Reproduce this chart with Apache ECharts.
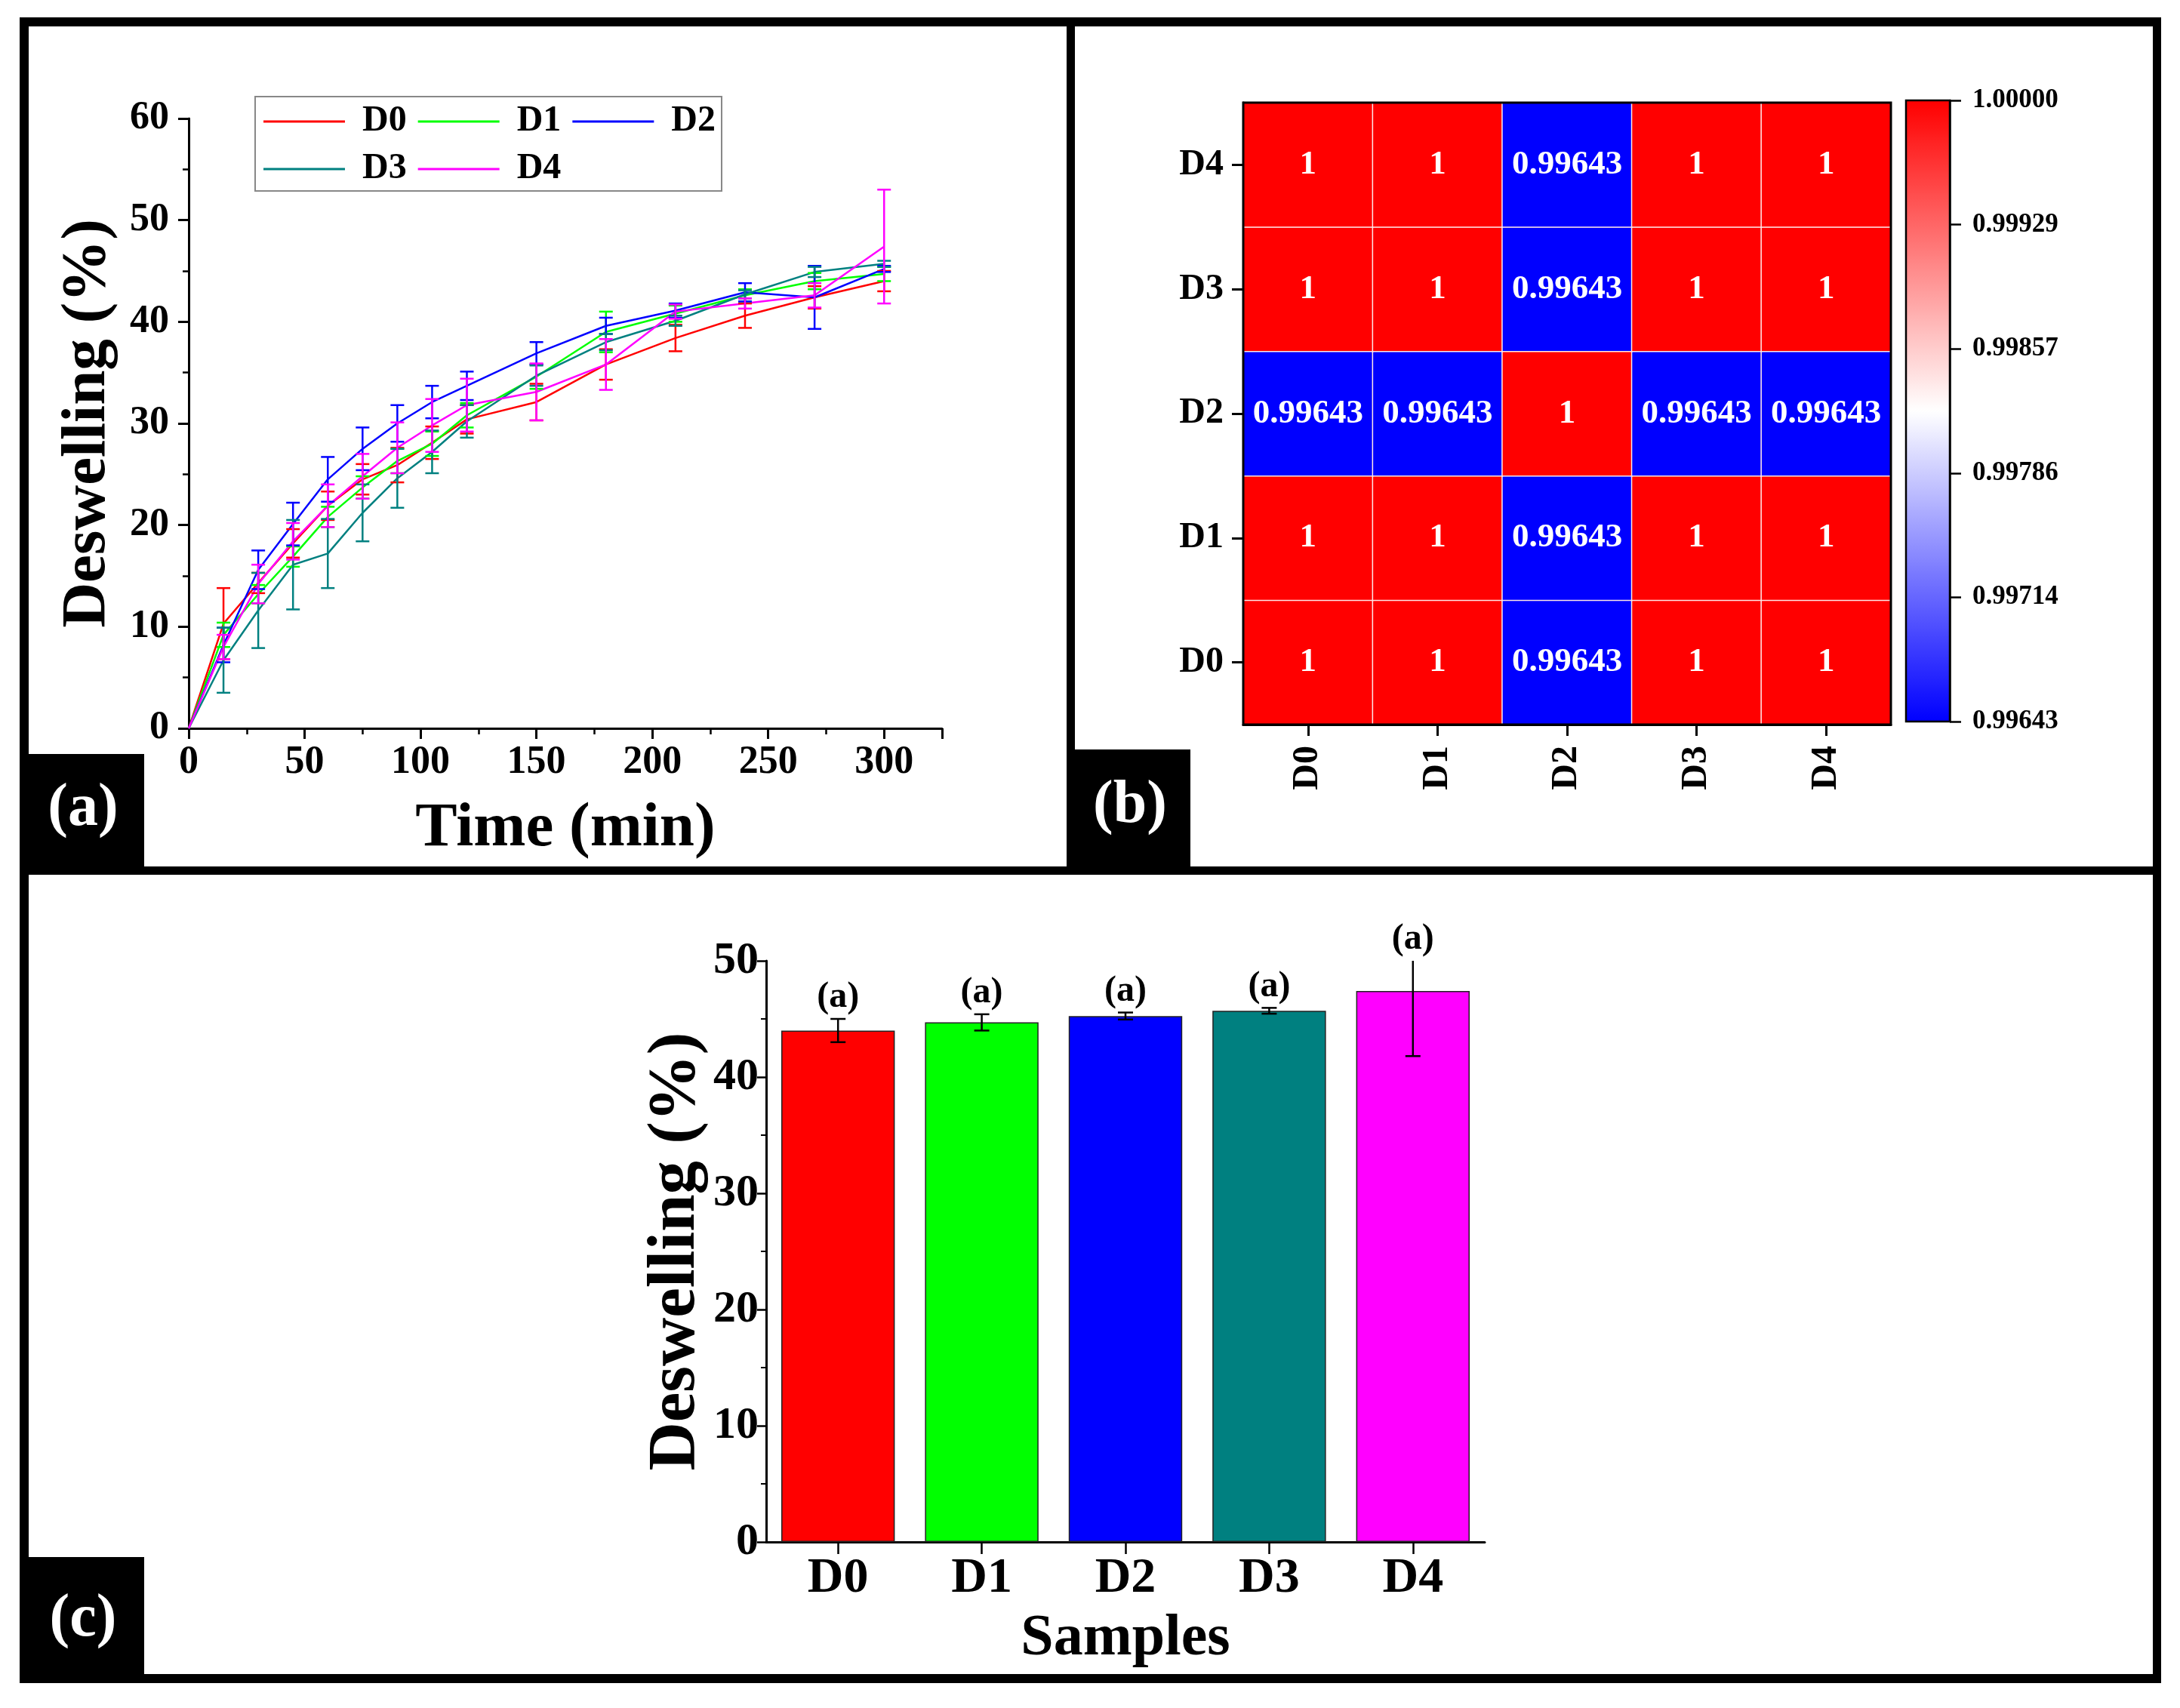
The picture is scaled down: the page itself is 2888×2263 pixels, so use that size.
<!DOCTYPE html>
<html>
<head>
<meta charset="utf-8">
<script src="https://cdn.jsdelivr.net/npm/echarts@6/dist/echarts.min.js"></script>
<style>
  html, body { margin: 0; padding: 0; background: #ffffff; }
  #chart { width: 2888px; height: 2263px; }
</style>
</head>
<body>
<div id="chart"></div>
<script>
// ===== data =====
var timePoints = [0, 15, 30, 45, 60, 75, 90, 105, 120, 150, 180, 210, 240, 270, 300];
var sampleNames = ['D0', 'D1', 'D2', 'D3', 'D4'];
var sampleColors = ['#ff0000', '#00ff00', '#0000ff', '#008080', '#ff00ff'];

// (a) deswelling kinetics, mean and error per time point
var d0Mean = [0, 10.3, 14.3, 18.2, 21.9, 24.5, 25.9, 28.1, 30.4, 32.1, 35.8, 38.4, 40.6, 42.4, 44.0];
var d0Err  = [0, 3.5, 1.0, 1.4, 1.4, 1.5, 1.7, 1.6, 1.4, 1.8, 1.5, 1.3, 1.2, 1.1, 1.0];
var d1Mean = [0, 9.2, 13.2, 16.9, 20.8, 23.7, 26.3, 28.0, 30.8, 34.6, 39.0, 40.8, 42.6, 44.0, 44.7];
var d1Err  = [0, 1.2, 0.9, 1.0, 1.0, 1.1, 1.2, 1.2, 1.2, 1.2, 2.0, 0.8, 0.6, 0.8, 0.7];
var d2Mean = [0, 8.2, 15.6, 20.1, 24.5, 27.5, 30.0, 32.1, 33.7, 36.9, 39.6, 41.1, 42.9, 42.4, 45.2];
var d2Err  = [0, 1.7, 1.9, 2.1, 2.2, 2.1, 1.8, 1.6, 1.4, 1.1, 0.8, 0.7, 0.9, 3.1, 0.3];
var d3Mean = [0, 6.7, 11.6, 16.1, 17.2, 21.2, 24.6, 27.2, 30.2, 34.7, 38.0, 40.1, 42.7, 44.9, 45.7];
var d3Err  = [0, 3.2, 3.7, 4.4, 3.4, 2.8, 2.9, 2.1, 1.6, 1.0, 0.8, 0.5, 0.4, 0.5, 0.3];
var d4Mean = [0, 8.0, 14.2, 18.4, 21.9, 24.8, 27.6, 29.8, 31.8, 33.1, 35.8, 41.0, 41.8, 42.6, 47.4];
var d4Err  = [0, 1.2, 1.9, 1.8, 2.1, 2.2, 2.5, 2.6, 2.6, 2.8, 2.5, 0.7, 0.5, 1.2, 5.6];

// (b) correlation matrix, row = y category (D0 bottom), column = x category
var corrMatrix = [
  [1, 1, 0.99643, 1, 1],
  [1, 1, 0.99643, 1, 1],
  [0.99643, 0.99643, 1, 0.99643, 0.99643],
  [1, 1, 0.99643, 1, 1],
  [1, 1, 0.99643, 1, 1]
];
var colorbarLabels = ['0.99643', '0.99714', '0.99786', '0.99857', '0.99929', '1.00000'];

// (c) final deswelling at 300 min
var finalMean = [44.0, 44.7, 45.25, 45.7, 47.4];
var finalErr  = [1.0, 0.7, 0.3, 0.25, 5.6];
var finalLetters = ['(a)', '(a)', '(a)', '(a)', '(a)'];

// ===== helpers =====
var FONT = '"Liberation Serif", "Times New Roman", serif';
var kineticMeans = [d0Mean, d1Mean, d2Mean, d3Mean, d4Mean];
var kineticErrs = [d0Err, d1Err, d2Err, d3Err, d4Err];

function errorBar(capHalf, color, lw) {
    return function (params, api) {
        var x = api.value(0);
        var lo = api.coord([x, api.value(1)]);
        var hi = api.coord([x, api.value(2)]);
        var style = { stroke: color, lineWidth: lw };
        return {
            type: 'group',
            children: [
                { type: 'line', shape: { x1: lo[0], y1: lo[1], x2: hi[0], y2: hi[1] }, style: style },
                { type: 'line', shape: { x1: lo[0] - capHalf, y1: lo[1], x2: lo[0] + capHalf, y2: lo[1] }, style: style },
                { type: 'line', shape: { x1: hi[0] - capHalf, y1: hi[1], x2: hi[0] + capHalf, y2: hi[1] }, style: style }
            ]
        };
    };
}

function blackAxis(w) {
    return { show: true, onZero: false, lineStyle: { color: '#000', width: w } };
}
function tickStyle(len, w) {
    return { show: true, inside: false, length: len, lineStyle: { color: '#000', width: w } };
}
function labelStyle(size, margin) {
    return { color: '#000', fontFamily: FONT, fontWeight: 'bold', fontSize: size, margin: margin };
}
function nameStyle(size) {
    return { color: '#000', fontFamily: FONT, fontWeight: 'bold', fontSize: size };
}

// ===== series =====
var series = [];
sampleNames.forEach(function (name, i) {
    series.push({
        name: name,
        type: 'line',
        xAxisIndex: 0,
        yAxisIndex: 0,
        symbol: 'none',
        lineStyle: { color: sampleColors[i], width: 2.5 },
        itemStyle: { color: sampleColors[i] },
        data: timePoints.map(function (t, j) { return [t, kineticMeans[i][j]]; }),
        z: 3
    });
});
sampleNames.forEach(function (name, i) {
    var errData = [];
    timePoints.forEach(function (t, j) {
        var m = kineticMeans[i][j], e = kineticErrs[i][j];
        if (e > 0) errData.push([t, m - e, m + e]);
    });
    series.push({
        name: name + ' err',
        type: 'custom',
        xAxisIndex: 0,
        yAxisIndex: 0,
        renderItem: errorBar(9, sampleColors[i], 2.5),
        encode: { x: 0, y: [1, 2] },
        data: errData,
        z: 4
    });
});

// heatmap
var heatData = [];
corrMatrix.forEach(function (row, yi) {
    row.forEach(function (v, xi) { heatData.push([xi, yi, v]); });
});
var heatIndex = series.length;
series.push({
    type: 'heatmap',
    xAxisIndex: 1,
    yAxisIndex: 1,
    data: heatData,
    label: {
        show: true,
        color: '#ffffff',
        fontFamily: FONT,
        fontWeight: 'bold',
        fontSize: 45,
        formatter: function (p) { return String(p.value[2]); }
    },
    itemStyle: { borderColor: '#ffe6e6', borderWidth: 1.5 }
});

// bars
series.push({
    type: 'bar',
    xAxisIndex: 2,
    yAxisIndex: 2,
    barWidth: '79%',
    data: finalMean.map(function (v, i) {
        return { value: v, itemStyle: { color: sampleColors[i] } };
    }),
    itemStyle: { borderColor: '#222', borderWidth: 1.5 },
    z: 2
});
series.push({
    type: 'custom',
    xAxisIndex: 2,
    yAxisIndex: 2,
    clip: true,
    renderItem: errorBar(10, '#000', 2.5),
    encode: { x: 0, y: [1, 2] },
    data: finalMean.map(function (m, i) { return [i, m - finalErr[i], m + finalErr[i]]; }),
    z: 5
});
series.push({
    type: 'custom',
    xAxisIndex: 2,
    yAxisIndex: 2,
    renderItem: function (params, api) {
        var p = api.coord([api.value(0), api.value(1)]);
        return {
            type: 'text',
            style: {
                x: p[0], y: p[1] - 4,
                text: finalLetters[params.dataIndex],
                fill: '#000',
                font: 'bold 48px ' + FONT,
                align: 'center',
                verticalAlign: 'bottom'
            }
        };
    },
    encode: { x: 0, y: 1 },
    data: finalMean.map(function (m, i) { return [i, Math.min(m + finalErr[i], 50)]; }),
    z: 6
});

// ===== frame and panel tags =====
function box(x, y, w, h) {
    return { type: 'rect', shape: { x: x, y: y, width: w, height: h }, style: { fill: '#000' }, z: 100 };
}
function tag(text, cx, cy) {
    return {
        type: 'text', z: 101,
        style: { x: cx, y: cy, text: text, fill: '#fff', font: 'bold 80px ' + FONT, align: 'center', verticalAlign: 'middle' }
    };
}
var graphics = [
    box(26, 23, 2837, 12),
    box(26, 2218, 2837, 12),
    box(26, 23, 12, 2207),
    box(2852, 23, 11, 2207),
    box(26, 1148, 2837, 11),
    box(1413, 23, 11, 1136),
    box(26, 999, 165, 160),
    box(1413, 993, 164, 166),
    box(26, 2063, 165, 167),
    tag('(a)', 110, 1072),
    tag('(b)', 1497, 1068),
    tag('(c)', 110, 2146),
    { type: 'rect', z: 90, shape: { x: 1647, y: 136, width: 858, height: 824 }, style: { fill: null, stroke: '#000', lineWidth: 3 } },
    { type: 'rect', z: 90, shape: { x: 2525, y: 133, width: 58, height: 823 }, style: { fill: null, stroke: '#000', lineWidth: 2.5 } }
];

var chart = echarts.init(document.getElementById('chart'));
chart.setOption({
    animation: false,
    backgroundColor: '#ffffff',
    graphic: graphics,
    legend: {
        data: sampleNames,
        icon: 'rect',
        left: 338,
        top: 128,
        width: 600,
        padding: [9, 8, 5, 11],
        borderColor: '#888',
        borderWidth: 2,
        itemWidth: 108,
        itemHeight: 3,
        itemGap: 15,
        textStyle: { color: '#000', fontFamily: FONT, fontWeight: 'bold', fontSize: 48, padding: [0, 0, 0, 18] }
    },
    visualMap: {
        type: 'continuous',
        min: 0.99643,
        max: 1,
        seriesIndex: heatIndex,
        calculable: false,
        orient: 'vertical',
        left: 2525,
        top: 133,
        padding: 0,
        itemWidth: 58,
        itemHeight: 823,
        inRange: { color: ['#0000ff', '#ffffff', '#ff0000'] }
    },
    grid: [
        { left: 250, top: 157, width: 998, height: 808 },
        { left: 1647, top: 136, width: 858, height: 824 },
        { left: 1015, top: 1273, width: 952, height: 770 },
        { left: 2525, top: 133, width: 58, height: 823 }
    ],
    xAxis: [
        {
            gridIndex: 0, type: 'value', min: 0, max: 325, interval: 50,
            name: 'Time (min)', nameLocation: 'middle', nameGap: 92, nameTextStyle: nameStyle(83),
            axisLine: blackAxis(3), axisTick: tickStyle(14, 3),
            minorTick: { show: true, splitNumber: 2, length: 8, lineStyle: { color: '#000', width: 2.5 } },
            splitLine: { show: false },
            axisLabel: Object.assign(labelStyle(52, 20), {
                formatter: function (v) { return v % 50 === 0 ? String(v) : ''; }
            })
        },
        {
            gridIndex: 1, type: 'category', data: sampleNames,
            axisLine: blackAxis(3), axisTick: Object.assign(tickStyle(15, 3), { alignWithLabel: true }),
            splitLine: { show: false },
            axisLabel: Object.assign(labelStyle(48, 28), { rotate: 90 })
        },
        {
            gridIndex: 2, type: 'category', data: sampleNames,
            name: 'Samples', nameLocation: 'middle', nameGap: 90, nameTextStyle: nameStyle(78),
            axisLine: blackAxis(3), axisTick: Object.assign(tickStyle(16, 2.5), { alignWithLabel: true }),
            splitLine: { show: false },
            axisLabel: labelStyle(66, 16)
        },
        { gridIndex: 3, type: 'value', min: 0, max: 1, show: false }
    ],
    yAxis: [
        {
            gridIndex: 0, type: 'value', min: 0, max: 60, interval: 10,
            name: 'Deswelling (%)', nameLocation: 'middle', nameGap: 92, nameTextStyle: nameStyle(83),
            axisLine: blackAxis(3), axisTick: tickStyle(14, 3),
            minorTick: { show: true, splitNumber: 2, length: 8, lineStyle: { color: '#000', width: 2.5 } },
            splitLine: { show: false },
            axisLabel: labelStyle(52, 26)
        },
        {
            gridIndex: 1, type: 'category', data: sampleNames,
            axisLine: blackAxis(3), axisTick: Object.assign(tickStyle(15, 3), { alignWithLabel: true }),
            splitLine: { show: false },
            axisLabel: labelStyle(48, 26)
        },
        {
            gridIndex: 2, type: 'value', min: 0, max: 50, interval: 10,
            name: 'Deswelling (%)', nameLocation: 'middle', nameGap: 74, nameTextStyle: nameStyle(89),
            axisLine: blackAxis(3), axisTick: tickStyle(12, 2.5),
            minorTick: { show: true, splitNumber: 2, length: 7, lineStyle: { color: '#000', width: 2 } },
            splitLine: { show: false },
            axisLabel: labelStyle(60, 10)
        },
        {
            gridIndex: 3, type: 'value', min: 0, max: 5, interval: 1, position: 'right',
            axisLine: blackAxis(2.5), axisTick: tickStyle(15, 2.5),
            splitLine: { show: false },
            axisLabel: Object.assign(labelStyle(35, 30), {
                formatter: function (v) { return colorbarLabels[v] || ''; }
            })
        }
    ],
    series: series
});
</script>
</body>
</html>
